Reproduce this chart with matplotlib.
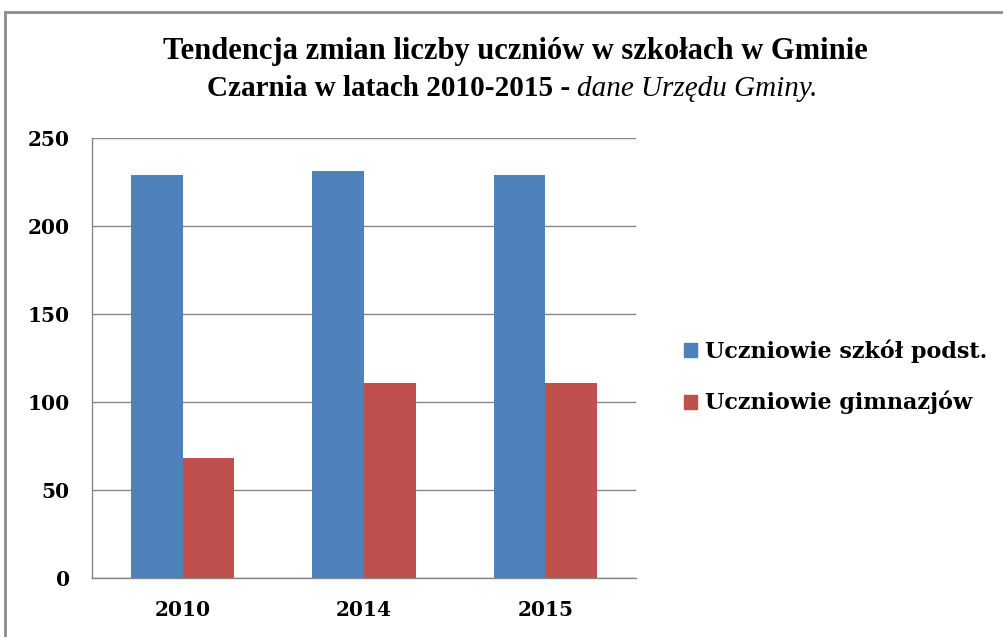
import numpy as np
import matplotlib.pyplot as plt
from matplotlib.patches import Rectangle, Patch

# ── Data ──────────────────────────────────────────────────────────────────────
years = ["2010", "2014", "2015"]
podst = [229, 231, 229]
gimn = [68, 111, 111]
series_names = ["Uczniowie szkół podst.", "Uczniowie gimnazjów"]
colors = ["#4F81BD", "#C0504D"]
yticks = [0, 50, 100, 150, 200, 250]

SERIF = "Liberation Serif"
WIDE = "DejaVu Serif"
GRID = "#868686"

fig = plt.figure(figsize=(10.04, 6.37), dpi=100)
W, H = 1004, 637

# outer chart frame (cropped screenshot: only left and top visible)
fig.patches.append(Rectangle((5 / W, -0.1), 1.2, (H - 12) / H + 0.1,
                             transform=fig.transFigure, fill=False,
                             ec="#8c8c8c", lw=2.0))

ax = fig.add_axes([92 / W, (H - 578) / H, (636 - 92) / W, (578 - 138) / H])

x = np.arange(len(years))
bw = 1 / 3.5
ax.bar(x - bw / 2, podst, width=bw, color=colors[0], zorder=3)
ax.bar(x + bw / 2, gimn, width=bw, color=colors[1], zorder=3)

ax.set_xlim(-0.5, len(years) - 0.5)
ax.set_ylim(0, 250)
ax.set_yticks(yticks)
ax.set_xticks(x)
ax.set_xticklabels(years)
ax.yaxis.grid(True, color=GRID, lw=1.0, zorder=0)
ax.set_axisbelow(True)
for s in ["top", "right"]:
    ax.spines[s].set_visible(False)
for s in ["left", "bottom"]:
    ax.spines[s].set_color(GRID)
    ax.spines[s].set_linewidth(1.0)
ax.tick_params(axis="both", length=0, labelsize=14.5)
ax.tick_params(axis="y", pad=16)
ax.tick_params(axis="x", pad=16)
for lab in ax.get_xticklabels() + ax.get_yticklabels():
    lab.set_fontfamily(WIDE)
    lab.set_fontweight("bold")

# ── Legend ────────────────────────────────────────────────────────────────────
handles = [Patch(facecolor=c, edgecolor=c) for c in colors]
fig.legend(handles, series_names, loc="center left",
           bbox_to_anchor=(664 / W, (H - 377) / H), frameon=False,
           prop={"family": WIDE, "weight": "bold", "size": 16},
           handlelength=0.6, handleheight=0.6, handletextpad=0.35,
           labelspacing=1.25)

# ── Title ─────────────────────────────────────────────────────────────────────
fig.text(0.513, (H - 52) / H, "Tendencja zmian liczby uczniów w szkołach w Gminie",
         ha="center", va="center", family=SERIF, weight="bold", size=22)
t1 = fig.text(0, (H - 89) / H, "Czarnia w latach 2010-2015 - ",
              ha="left", va="center", family=SERIF, weight="bold", size=21)
t2 = fig.text(0, (H - 89) / H, "dane Urzędu Gminy.",
              ha="left", va="center", family=SERIF, style="italic", size=21)
fig.canvas.draw()
r = fig.canvas.get_renderer()
w1 = t1.get_window_extent(r).width
w2 = t2.get_window_extent(r).width
x0 = 0.51 * W - (w1 + w2) / 2
t1.set_x(x0 / W)
t2.set_x((x0 + w1) / W)

fig.savefig("out.png", dpi=100)
